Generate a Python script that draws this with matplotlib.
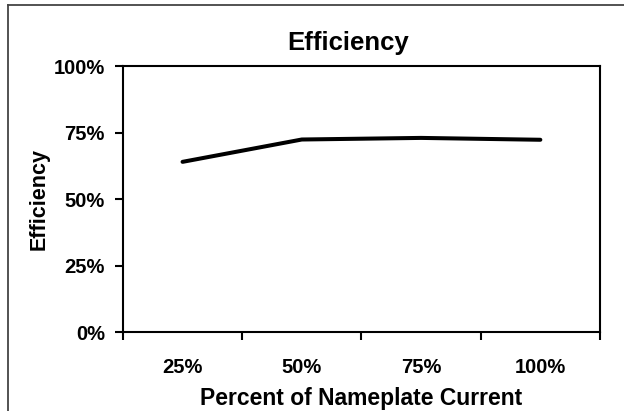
import numpy as np
import matplotlib.pyplot as plt
from matplotlib.lines import Line2D

categories = ['25%', '50%', '75%', '100%']
efficiency = [64.0, 72.4, 73.0, 72.3]
y_ticks = [0, 25, 50, 75, 100]
y_tick_labels = ['0%', '25%', '50%', '75%', '100%']

plt.rcParams['font.family'] = ['Liberation Sans', 'DejaVu Sans']
plt.rcParams['font.weight'] = 'bold'

fig = plt.figure(figsize=(6.24, 4.11), dpi=100)
ax = fig.add_axes([0.197, 0.192, 0.7645, 0.6472])

x = np.arange(1, len(categories) + 1)
ax.plot(x, efficiency, color='black', lw=2.9, solid_capstyle='round')

ax.set_xlim(0.5, len(categories) + 0.5)
ax.set_ylim(0, 100)

# ticks between categories, labels at centers
ax.set_xticks(np.arange(0.5, len(categories) + 1, 1.0))
ax.set_xticklabels([])
ax.set_xticks(x, minor=True)
ax.set_xticklabels(categories, minor=True, fontsize=14.5, fontweight='bold')
ax.tick_params(axis='x', which='minor', length=0, pad=19)
ax.tick_params(axis='x', which='major', length=6, width=1.5, direction='out')

ax.set_yticks(y_ticks)
ax.set_yticklabels(y_tick_labels, fontsize=14.5, fontweight='bold')
ax.tick_params(axis='y', length=6, width=1.5, direction='out', pad=7)

for s in ax.spines.values():
    s.set_linewidth(1.5)
    s.set_color('black')

# title is centred on the whole chart area, a bit left of the plot centre
fig.text(348 / 624, 1 - 50 / 411, 'Efficiency', fontsize=18.5, fontweight='bold',
         ha='center', va='baseline')
ax.set_xlabel('Percent of Nameplate Current', fontsize=16.5, fontweight='bold', labelpad=7)
ax.set_ylabel('Efficiency', fontsize=15.5, fontweight='bold', labelpad=3)

# outer chart border (cut off at right and bottom)
fig.add_artist(Line2D([8 / 624, 8 / 624], [0, 1 - 5 / 411], transform=fig.transFigure, color='#444444', lw=1.3))
fig.add_artist(Line2D([8 / 624, 1], [1 - 5 / 411, 1 - 5 / 411], transform=fig.transFigure, color='#444444', lw=1.3))

fig.savefig('out.png', dpi=100)
